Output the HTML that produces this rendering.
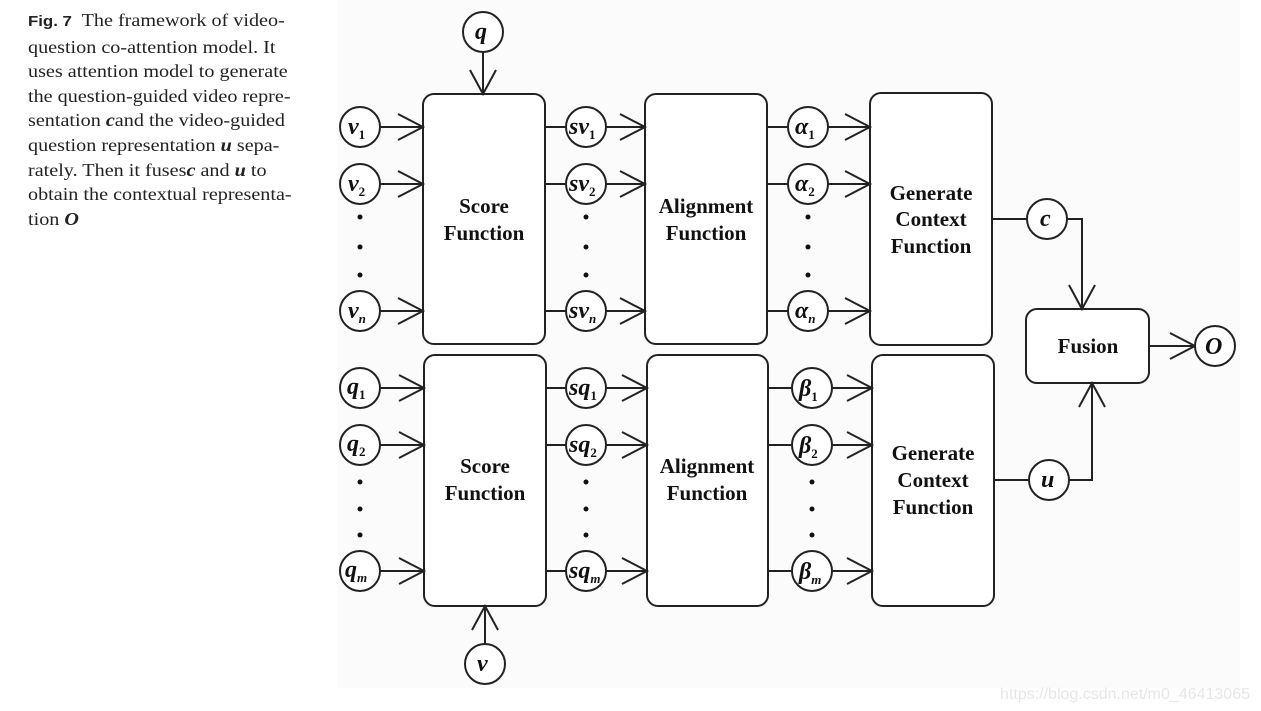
<!DOCTYPE html>
<html><head><meta charset="utf-8"><style>
html,body{margin:0;padding:0;background:#fff;width:1261px;height:711px;overflow:hidden}
.cap{position:absolute;left:28px;top:8px;width:300px;font-family:"Liberation Serif",serif;font-size:18px;line-height:24.6px;color:#222;transform:scaleX(1.12);transform-origin:0 0;white-space:nowrap}
.cap b.f{font-family:"Liberation Sans",sans-serif;font-weight:bold;font-size:15px}
svg{position:absolute;left:0;top:0}
.l{font-family:"Liberation Serif",serif;font-style:italic;font-weight:bold;fill:#111}
.t{font-family:"Liberation Serif",serif;font-weight:bold;font-size:21px;fill:#111;text-anchor:middle}
</style></head><body>
<svg width="1261" height="711" viewBox="0 0 1261 711">
<rect x="338" y="0" width="902" height="688" fill="#fbfbfb"/>
<g fill="#fff" stroke="#222" stroke-width="2">
<rect x="423" y="94" width="122" height="250" rx="11"/>
<rect x="645" y="94" width="122" height="250" rx="11"/>
<rect x="870" y="93" width="122" height="252" rx="11"/>
<rect x="424" y="355" width="122" height="251" rx="11"/>
<rect x="647" y="355" width="121" height="251" rx="11"/>
<rect x="872" y="355" width="122" height="251" rx="11"/>
<rect x="1026" y="309" width="123" height="74" rx="11"/>
</g>
<g fill="none" stroke="#222" stroke-width="2">
<path d="M380 127H423M380 184H423M380 311H423"/>
<path d="M398 114L423 127L398 140M398 171L423 184L398 197M398 298L423 311L398 324"/>
<path d="M483 52V94M470 70L483 94L496 70"/>
<path d="M545 127H566M606 127H645M545 184H566M606 184H645M545 311H566M606 311H645"/>
<path d="M620 114L645 127L620 140M620 171L645 184L620 197M620 298L645 311L620 324"/>
<path d="M767 127H788M828 127H870M767 184H788M828 184H870M767 311H788M828 311H870"/>
<path d="M845 114L870 127L845 140M845 171L870 184L845 197M845 298L870 311L845 324"/>
<path d="M992 219H1027M1067 219H1082V309M1069 285L1082 309L1095 285"/>
<path d="M380 388H424M380 445H424M380 571H424"/>
<path d="M399 375L424 388L399 401M399 432L424 445L399 458M399 558L424 571L399 584"/>
<path d="M485 644V606M472 630L485 606L498 630"/>
<path d="M546 388H566M606 388H647M546 445H566M606 445H647M546 571H566M606 571H647"/>
<path d="M622 375L647 388L622 401M622 432L647 445L622 458M622 558L647 571L622 584"/>
<path d="M768 388H792M832 388H872M768 445H792M832 445H872M768 571H792M832 571H872"/>
<path d="M847 375L872 388L847 401M847 432L872 445L847 458M847 558L872 571L847 584"/>
<path d="M994 480H1029M1069 480H1092V383M1079 407L1092 383L1105 407"/>
<path d="M1149 346H1195M1170 333L1195 346L1170 359"/>
</g>
<g fill="#fff" stroke="#222" stroke-width="2">
<circle cx="483" cy="32" r="20"/>
<circle cx="360" cy="127" r="20"/><circle cx="360" cy="184" r="20"/><circle cx="360" cy="311" r="20"/>
<circle cx="586" cy="127" r="20"/><circle cx="586" cy="184" r="20"/><circle cx="586" cy="311" r="20"/>
<circle cx="808" cy="127" r="20"/><circle cx="808" cy="184" r="20"/><circle cx="808" cy="311" r="20"/>
<circle cx="1047" cy="219" r="20"/>
<circle cx="1215" cy="346" r="20"/>
<circle cx="360" cy="388" r="20"/><circle cx="360" cy="445" r="20"/><circle cx="360" cy="571" r="20"/>
<circle cx="586" cy="388" r="20"/><circle cx="586" cy="445" r="20"/><circle cx="586" cy="571" r="20"/>
<circle cx="812" cy="388" r="20"/><circle cx="812" cy="445" r="20"/><circle cx="812" cy="571" r="20"/>
<circle cx="1049" cy="480" r="20"/>
<circle cx="485" cy="664" r="20"/>
</g>
<g fill="#111">
<circle cx="360" cy="217" r="2.5"/><circle cx="360" cy="247" r="2.5"/><circle cx="360" cy="275" r="2.5"/>
<circle cx="586" cy="217" r="2.5"/><circle cx="586" cy="247" r="2.5"/><circle cx="586" cy="275" r="2.5"/>
<circle cx="808" cy="217" r="2.5"/><circle cx="808" cy="247" r="2.5"/><circle cx="808" cy="275" r="2.5"/>
<circle cx="360" cy="482" r="2.5"/><circle cx="360" cy="509" r="2.5"/><circle cx="360" cy="535" r="2.5"/>
<circle cx="586" cy="482" r="2.5"/><circle cx="586" cy="509" r="2.5"/><circle cx="586" cy="535" r="2.5"/>
<circle cx="812" cy="482" r="2.5"/><circle cx="812" cy="509" r="2.5"/><circle cx="812" cy="535" r="2.5"/>
</g>
<g class="l" font-size="24">
<text x="475" y="39">q</text>
<text x="348" y="134">v<tspan font-size="13" font-style="normal" dy="5">1</tspan></text>
<text x="348" y="191">v<tspan font-size="13" font-style="normal" dy="5">2</tspan></text>
<text x="348" y="318">v<tspan font-size="13" dy="5">n</tspan></text>
<text x="569" y="134">sv<tspan font-size="13" font-style="normal" dy="5">1</tspan></text>
<text x="569" y="191">sv<tspan font-size="13" font-style="normal" dy="5">2</tspan></text>
<text x="569" y="318">sv<tspan font-size="13" dy="5">n</tspan></text>
<text x="795" y="134">α<tspan font-size="13" font-style="normal" dy="5">1</tspan></text>
<text x="795" y="191">α<tspan font-size="13" font-style="normal" dy="5">2</tspan></text>
<text x="795" y="318">α<tspan font-size="13" dy="5">n</tspan></text>
<text x="1040" y="226">c</text>
<text x="1205" y="354">O</text>
<text x="347" y="394">q<tspan font-size="13" font-style="normal" dy="5">1</tspan></text>
<text x="347" y="451">q<tspan font-size="13" font-style="normal" dy="5">2</tspan></text>
<text x="345" y="577">q<tspan font-size="13" dy="5">m</tspan></text>
<text x="569" y="395">sq<tspan font-size="13" font-style="normal" dy="5">1</tspan></text>
<text x="569" y="452">sq<tspan font-size="13" font-style="normal" dy="5">2</tspan></text>
<text x="569" y="578">sq<tspan font-size="13" dy="5">m</tspan></text>
<text x="799" y="396">β<tspan font-size="13" font-style="normal" dy="5">1</tspan></text>
<text x="799" y="453">β<tspan font-size="13" font-style="normal" dy="5">2</tspan></text>
<text x="799" y="579">β<tspan font-size="13" dy="5">m</tspan></text>
<text x="1041" y="487">u</text>
<text x="477" y="671">v</text>
</g>
<g class="t">
<text x="484" y="213">Score</text><text x="484" y="240">Function</text>
<text x="706" y="213">Alignment</text><text x="706" y="240">Function</text>
<text x="931" y="200">Generate</text><text x="931" y="226">Context</text><text x="931" y="253">Function</text>
<text x="485" y="473">Score</text><text x="485" y="500">Function</text>
<text x="707" y="473">Alignment</text><text x="707" y="500">Function</text>
<text x="933" y="460">Generate</text><text x="933" y="487">Context</text><text x="933" y="514">Function</text>
<text x="1088" y="353">Fusion</text>
</g>
<text x="1250" y="699" text-anchor="end" font-family="Liberation Sans,sans-serif" font-size="16" fill="#e6e6e6">https://blog.csdn.net/m0_46413065</text>
</svg>
<div class="cap"><b class="f">Fig. 7</b>&nbsp; The framework of video-<br>question co-attention model. It<br>uses attention model to generate<br>the question-guided video repre-<br>sentation <b><i>c</i></b>and the video-guided<br>question representation <b><i>u</i></b> sepa-<br>rately. Then it fuses<b><i>c</i></b> and <b><i>u</i></b> to<br>obtain the contextual representa-<br>tion <b><i>O</i></b></div>
</body></html>
